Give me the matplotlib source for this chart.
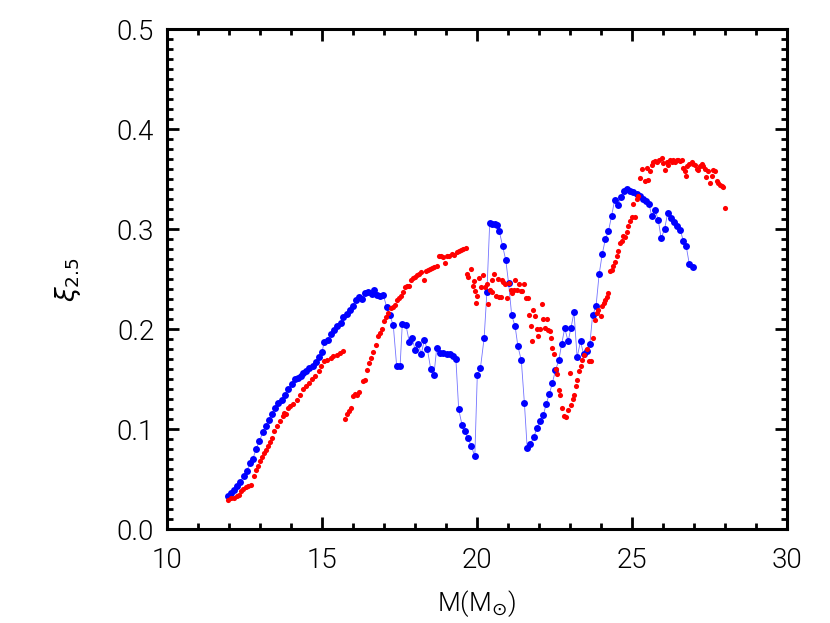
import matplotlib
matplotlib.use("Agg")
import matplotlib.pyplot as plt
from matplotlib.ticker import MultipleLocator
from matplotlib import font_manager

# Blue series (connected, larger dots)
blue_m = [11.97, 12.06, 12.16, 12.26, 12.36, 12.48, 12.58, 12.69, 12.78, 12.88,
          12.99, 13.10, 13.19, 13.30, 13.39, 13.49, 13.60, 13.71, 13.82, 13.92,
          14.03, 14.14, 14.25, 14.32, 14.39, 14.49, 14.60, 14.71, 14.82, 14.91,
          15.01, 15.08, 15.19, 15.29, 15.40, 15.50, 15.61, 15.70, 15.81, 15.91,
          16.00, 16.11, 16.21, 16.29, 16.40, 16.50, 16.61, 16.70, 16.77, 16.88,
          16.99, 17.10, 17.20, 17.31, 17.42, 17.53, 17.60, 17.72, 17.83, 17.92,
          18.02, 18.12, 18.21, 18.31, 18.41, 18.52, 18.62, 18.71, 18.82, 18.92,
          19.03, 19.14, 19.25, 19.33, 19.42, 19.53, 19.62, 19.72, 19.83, 19.94,
          20.02, 20.12, 20.24, 20.33, 20.42, 20.50, 20.59, 20.66, 20.73, 20.84,
          20.94, 21.03, 21.13, 21.24, 21.33, 21.44, 21.54, 21.63, 21.73, 21.84,
          21.94, 22.04, 22.15, 22.24, 22.34, 22.44, 22.54, 22.65, 22.74, 22.84,
          22.95, 23.04, 23.14, 23.24, 23.35, 23.45, 23.55, 23.65, 23.74, 23.85,
          23.95, 24.05, 24.15, 24.25, 24.35, 24.45, 24.55, 24.66, 24.75, 24.85,
          24.95, 25.05, 25.16, 25.27, 25.35, 25.46, 25.56, 25.65, 25.76, 25.86,
          25.95, 26.06, 26.16, 26.27, 26.37, 26.47, 26.57, 26.67, 26.76, 26.86,
          26.97]
blue_xi = [0.033, 0.036, 0.039, 0.043, 0.047, 0.053, 0.058, 0.066, 0.070, 0.080,
           0.088, 0.097, 0.103, 0.109, 0.115, 0.121, 0.126, 0.129, 0.134, 0.140,
           0.145, 0.150, 0.151, 0.153, 0.156, 0.158, 0.161, 0.163, 0.167, 0.172,
           0.177, 0.187, 0.189, 0.195, 0.199, 0.203, 0.206, 0.212, 0.215, 0.219,
           0.223, 0.229, 0.232, 0.230, 0.236, 0.237, 0.235, 0.239, 0.234, 0.233,
           0.234, 0.222, 0.214, 0.204, 0.163, 0.163, 0.205, 0.204, 0.187, 0.191,
           0.179, 0.185, 0.175, 0.189, 0.180, 0.160, 0.154, 0.181, 0.176, 0.176,
           0.175, 0.175, 0.173, 0.170, 0.120, 0.104, 0.098, 0.091, 0.083, 0.073,
           0.154, 0.161, 0.191, 0.237, 0.306, 0.305, 0.305, 0.304, 0.298, 0.283,
           0.269, 0.246, 0.214, 0.203, 0.183, 0.169, 0.126, 0.081, 0.085, 0.092,
           0.101, 0.108, 0.114, 0.125, 0.135, 0.146, 0.159, 0.169, 0.185, 0.201,
           0.188, 0.201, 0.217, 0.172, 0.188, 0.175, 0.178, 0.185, 0.214, 0.223,
           0.255, 0.275, 0.290, 0.298, 0.313, 0.329, 0.324, 0.332, 0.338, 0.340,
           0.338, 0.337, 0.335, 0.333, 0.330, 0.328, 0.325, 0.313, 0.319, 0.309,
           0.291, 0.300, 0.316, 0.311, 0.307, 0.303, 0.299, 0.288, 0.283, 0.265,
           0.262]

# Red series (unconnected, small dots)
red_m = [11.97, 12.06, 12.16, 12.26, 12.33, 12.40, 12.47, 12.56, 12.63, 12.72,
         12.82, 12.89, 12.96, 13.02, 13.08, 13.15, 13.21, 13.28, 13.34, 13.41,
         13.47, 13.56, 13.65, 13.74, 13.79, 13.85, 13.92, 13.98, 14.08, 14.19,
         14.30, 14.39, 14.49, 14.60, 14.69, 14.79, 14.90, 14.99, 15.08, 15.18,
         15.29, 15.37, 15.48, 15.59, 15.70,
         15.75, 15.81, 15.87, 15.94, 16.02, 16.08, 16.15, 16.21, 16.34, 16.41,
         16.47, 16.54, 16.60, 16.67, 16.75, 16.83, 16.88, 16.95, 17.01, 17.07,
         17.15, 17.23, 17.29, 17.36, 17.44, 17.50, 17.57, 17.63, 17.69, 17.76,
         17.83, 17.89, 17.95, 18.02, 18.08, 18.15, 18.21, 18.30, 18.36, 18.43,
         18.50, 18.56, 18.63, 18.73, 18.77, 18.84, 18.90, 18.98, 19.03, 19.12,
         19.19, 19.27, 19.35, 19.42, 19.48, 19.57, 19.65,
         19.68, 19.73, 19.82, 19.87, 19.91, 19.95, 19.98, 20.02, 20.07, 20.14,
         20.21, 20.27, 20.32, 20.37, 20.43, 20.48, 20.50, 20.57, 20.61, 20.68,
         20.72, 20.77, 20.81, 20.86, 20.91, 20.99, 21.04, 21.10, 21.15, 21.21,
         21.24, 21.31, 21.36, 21.42, 21.47, 21.53, 21.58, 21.64, 21.69, 21.75,
         21.79, 21.83, 21.88, 21.95, 21.99, 22.04, 22.10, 22.15, 22.20, 22.26,
         22.31, 22.36, 22.40, 22.44, 22.49, 22.55, 22.60, 22.65, 22.70, 22.76,
         22.83, 22.89, 22.95, 23.01, 23.03, 23.10, 23.15, 23.20, 23.25, 23.30,
         23.35, 23.40, 23.46, 23.55, 23.61, 23.68, 23.76, 23.82, 23.87, 23.92,
         24.00, 24.05, 24.10, 24.15, 24.20, 24.25,
         24.30, 24.35, 24.41, 24.46, 24.52, 24.57, 24.62, 24.68, 24.73, 24.78,
         24.84, 24.89, 24.95, 25.00, 25.05, 25.11, 25.16, 25.21, 25.27, 25.32,
         25.43, 25.48, 25.54, 25.59, 25.65, 25.70, 25.75, 25.81, 25.89, 25.97,
         26.02, 26.07, 26.13, 26.18, 26.24, 26.29, 26.34, 26.40, 26.45, 26.50,
         26.55, 26.61, 26.66, 26.72, 26.75, 26.79, 26.86, 26.94, 26.99, 27.04,
         27.10, 27.15, 27.20, 27.26, 27.31, 27.36, 27.40, 27.47, 27.53, 27.58,
         27.63, 27.69, 27.74, 27.79, 27.85, 27.90, 27.95, 28.01]
red_xi = [0.029, 0.031, 0.031, 0.033, 0.034, 0.038, 0.040, 0.042, 0.043, 0.044,
          0.053, 0.059, 0.063, 0.068, 0.072, 0.076, 0.079, 0.083, 0.087, 0.091,
          0.098, 0.103, 0.108, 0.113, 0.116, 0.115, 0.121, 0.123, 0.125, 0.129,
          0.134, 0.140, 0.143, 0.146, 0.150, 0.153, 0.158, 0.163, 0.168, 0.169,
          0.171, 0.173, 0.174, 0.176, 0.178,
          0.110, 0.115, 0.118, 0.121, 0.133, 0.135, 0.134, 0.137, 0.148, 0.149,
          0.159, 0.166, 0.171, 0.177, 0.184, 0.193, 0.196, 0.200, 0.208, 0.212,
          0.216, 0.221, 0.222, 0.224, 0.229, 0.231, 0.233, 0.237, 0.242, 0.243,
          0.243, 0.249, 0.251, 0.252, 0.254, 0.255, 0.257, 0.249, 0.258, 0.259,
          0.260, 0.261, 0.262, 0.263, 0.273, 0.273, 0.272, 0.266, 0.273, 0.273,
          0.275, 0.274, 0.277, 0.278, 0.279, 0.280, 0.281,
          0.255, 0.252, 0.260, 0.243, 0.248, 0.238, 0.226, 0.233, 0.251, 0.242,
          0.254, 0.242, 0.245, 0.225, 0.239, 0.249, 0.237, 0.255, 0.233, 0.250,
          0.232, 0.232, 0.249, 0.247, 0.245, 0.231, 0.246, 0.239, 0.236, 0.239,
          0.249, 0.239, 0.245, 0.238, 0.238, 0.245, 0.231, 0.231, 0.214, 0.203,
          0.188, 0.219, 0.213, 0.200, 0.193, 0.200, 0.225, 0.210, 0.201, 0.210,
          0.199, 0.198, 0.191, 0.181, 0.175, 0.160, 0.155, 0.139, 0.134, 0.121,
          0.113, 0.112, 0.119, 0.156, 0.124, 0.130, 0.134, 0.143, 0.149, 0.158,
          0.163, 0.169, 0.174, 0.180, 0.168, 0.168, 0.191, 0.209, 0.216, 0.219,
          0.213, 0.223, 0.226, 0.229, 0.232, 0.236,
          0.258, 0.259, 0.263, 0.267, 0.273, 0.278, 0.286, 0.288, 0.293, 0.292,
          0.297, 0.303, 0.308, 0.312, 0.325, 0.312, 0.330, 0.333, 0.351, 0.360,
          0.348, 0.361, 0.349, 0.358, 0.364, 0.367, 0.368, 0.367, 0.369, 0.371,
          0.366, 0.359, 0.367, 0.364, 0.369, 0.367, 0.369, 0.367, 0.369, 0.369,
          0.368, 0.369, 0.361, 0.358, 0.353, 0.363, 0.365, 0.367, 0.365, 0.364,
          0.360, 0.359, 0.363, 0.365, 0.363, 0.360, 0.352, 0.358, 0.346, 0.353,
          0.359, 0.358, 0.348, 0.346, 0.344, 0.343, 0.342, 0.321]

x_ticks = [10, 15, 20, 25, 30]
y_ticks = [0.0, 0.1, 0.2, 0.3, 0.4, 0.5]
x_ticklabels = ["10", "15", "20", "25", "30"]
y_ticklabels = ["0.0", "0.1", "0.2", "0.3", "0.4", "0.5"]

plt.rcParams['font.family'] = ['Roboto', 'DejaVu Sans']
plt.rcParams['mathtext.fontset'] = 'dejavusans'

# pick a light weight if one is installed
light_weight = 'normal'
for f in font_manager.fontManager.ttflist:
    if f.name == 'Roboto' and f.weight in (300, 'light') and f.style == 'normal':
        light_weight = 300
        break

fig = plt.figure(figsize=(8.3, 6.23), dpi=100)
ax = fig.add_axes([0.2008, 0.1504, 0.7470, 0.8026])

ax.plot(blue_m, blue_xi, color=(0.45, 0.45, 1.0), linewidth=0.6, zorder=2)
ax.plot(blue_m, blue_xi, linestyle='none', marker='o', markersize=5.0,
        color=(0, 0, 1.0), markeredgewidth=0, zorder=3)
ax.plot(red_m, red_xi, linestyle='none', marker='o', markersize=3.7,
        color=(1.0, 0, 0), markeredgewidth=0, zorder=4)

ax.set_xlim(10, 30)
ax.set_ylim(0, 0.5)
ax.set_xticks(x_ticks)
ax.set_xticklabels(x_ticklabels)
ax.set_yticks(y_ticks)
ax.set_yticklabels(y_ticklabels)
ax.xaxis.set_minor_locator(MultipleLocator(1))
ax.yaxis.set_minor_locator(MultipleLocator(0.01))

for s in ax.spines.values():
    s.set_linewidth(2.2)
ax.tick_params(which='both', direction='in', top=True, right=True, width=2.0)
ax.tick_params(which='major', length=8.5, labelsize=20, labelcolor='black')
ax.tick_params(axis='x', which='major', pad=13)
ax.tick_params(axis='y', which='major', pad=9)
ax.tick_params(which='minor', length=4.5)
for lab in ax.get_xticklabels() + ax.get_yticklabels():
    lab.set_fontweight(light_weight)

ax.set_xlabel(r'M(M$_{\odot}$)', fontsize=19, color='black', labelpad=10,
              fontweight=light_weight)
ax.set_ylabel(r'$\xi_{2.5}$', fontsize=19, color='black', labelpad=24)

fig.savefig('out.png', dpi=100)
